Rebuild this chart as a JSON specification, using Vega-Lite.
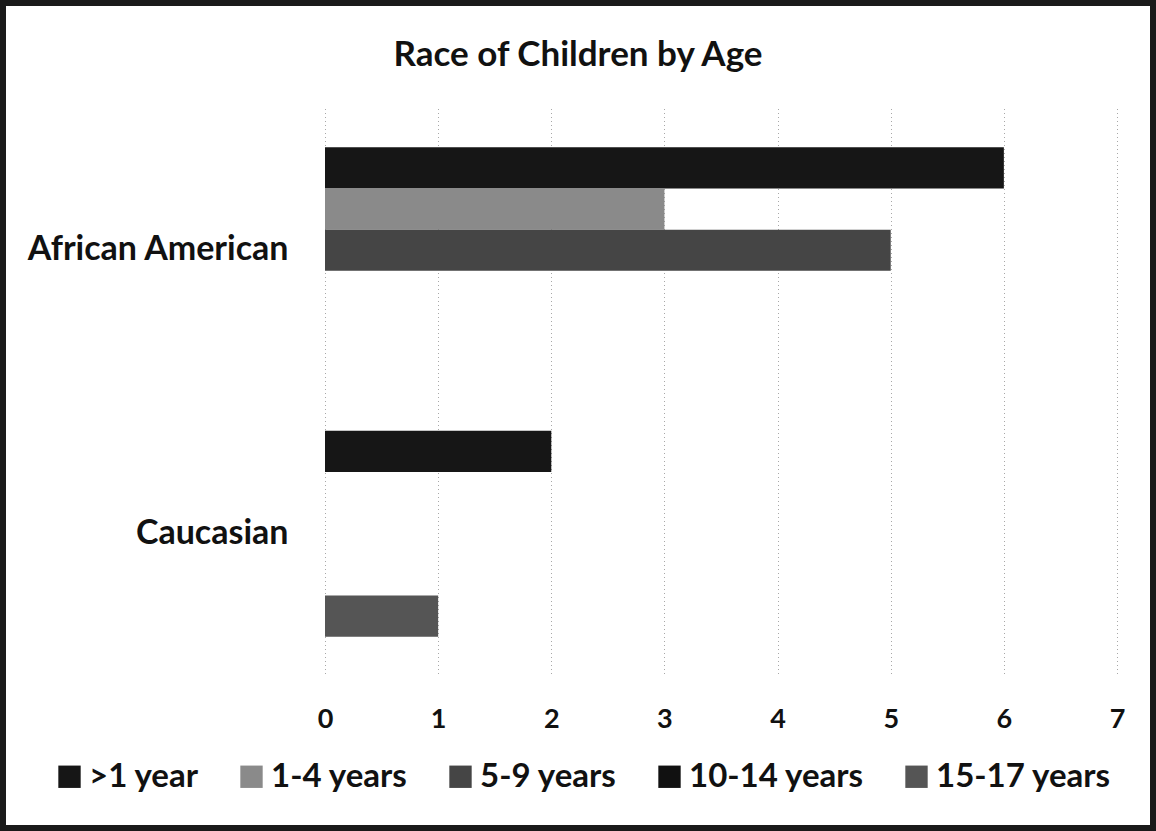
{
  "$schema": "https://vega.github.io/schema/vega-lite/v6.json",
  "width": 1150,
  "height": 825,
  "autosize": {"type": "none"},
  "padding": 3,
  "background": "white",
  "title": {
    "text": "Race of Children by Age",
    "anchor": "middle",
    "frame": "group",
    "font": "Lato",
    "fontSize": 35,
    "fontWeight": "bold",
    "color": "#111111",
    "baseline": "alphabetic",
    "offset": 0,
    "dy": 98
  },
  "data": {
    "values": [
      {"race": "African American", "age": ">1 year", "count": 6},
      {"race": "African American", "age": "1-4 years", "count": 3},
      {"race": "African American", "age": "5-9 years", "count": 5},
      {"race": "African American", "age": "10-14 years", "count": 0},
      {"race": "African American", "age": "15-17 years", "count": 0},
      {"race": "Caucasian", "age": ">1 year", "count": 2},
      {"race": "Caucasian", "age": "1-4 years", "count": 0},
      {"race": "Caucasian", "age": "5-9 years", "count": 0},
      {"race": "Caucasian", "age": "10-14 years", "count": 0},
      {"race": "Caucasian", "age": "15-17 years", "count": 1}
    ]
  },
  "mark": {"type": "bar"},
  "encoding": {
    "y": {
      "field": "race",
      "type": "nominal",
      "sort": ["African American", "Caucasian"],
      "scale": {"range": [105.5, 672.5], "paddingInner": 0.273, "paddingOuter": 0.1365},
      "axis": {
        "title": null,
        "orient": "left",
        "offset": -285,
        "labelPadding": 0,
        "domain": false,
        "ticks": false,
        "grid": false,
        "labelFont": "Lato",
        "labelFontSize": 34,
        "labelFontWeight": "bold",
        "labelColor": "#111111",
        "labelAlign": "right",
        "labelBaseline": "middle",
        "labelLimit": 500
      }
    },
    "yOffset": {
      "field": "age",
      "type": "nominal",
      "sort": [">1 year", "1-4 years", "5-9 years", "10-14 years", "15-17 years"],
      "scale": {"paddingInner": 0, "paddingOuter": 0}
    },
    "x": {
      "field": "count",
      "type": "quantitative",
      "scale": {"domain": [0, 7], "range": [322, 1114], "nice": false},
      "axis": {
        "title": null,
        "orient": "top",
        "offset": -724,
        "labelPadding": 0,
        "labelBaseline": "alphabetic",
        "domain": false,
        "ticks": false,
        "grid": true,
        "gridColor": "#a8a8a8",
        "gridDash": [1, 3],
        "gridWidth": 1,
        "values": [0, 1, 2, 3, 4, 5, 6, 7],
        "labelFont": "Lato",
        "labelFontSize": 27,
        "labelFontWeight": "bold",
        "labelColor": "#111111",
        "labelFlush": false
      }
    },
    "color": {
      "field": "age",
      "type": "nominal",
      "scale": {
        "domain": [">1 year", "1-4 years", "5-9 years", "10-14 years", "15-17 years"],
        "range": ["#161616", "#8a8a8a", "#454545", "#111111", "#555555"]
      },
      "legend": {
        "title": null,
        "orient": "none",
        "legendX": 50,
        "legendY": 757,
        "direction": "horizontal",
        "symbolType": "square",
        "symbolSize": 500,
        "symbolStrokeWidth": 0,
        "labelFont": "Lato",
        "labelFontSize": 33,
        "labelFontWeight": "bold",
        "labelColor": "#111111",
        "labelOffset": 3,
        "columnPadding": 36,
        "padding": 0,
        "labelLimit": 500
      }
    }
  },
  "config": {
    "view": {"stroke": "#1a1a1a", "strokeWidth": 6, "fill": "white"}
  }
}
